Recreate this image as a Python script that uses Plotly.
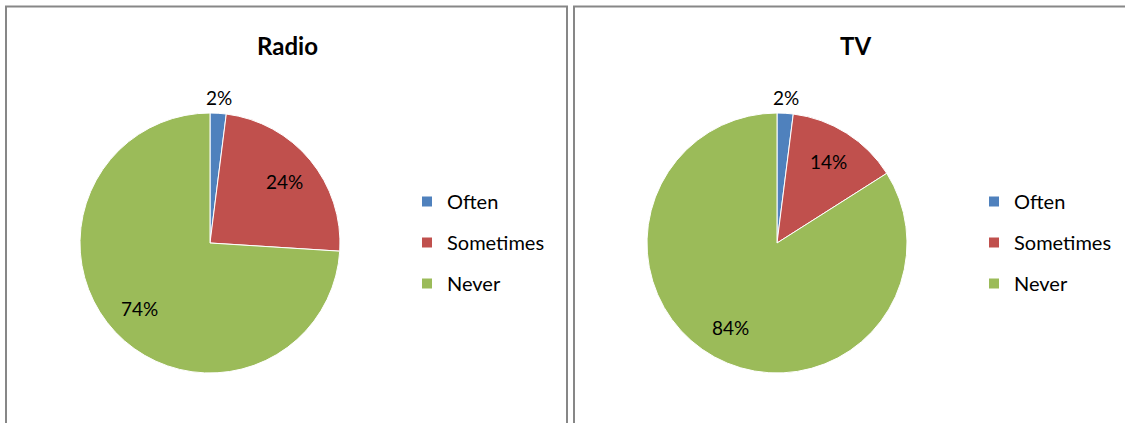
import math
import plotly.graph_objects as go

categories = ["Often", "Sometimes", "Never"]
radio_values = [2, 24, 74]
tv_values = [2, 14, 84]
colors = ["#4F81BD", "#C0504D", "#9BBB59"]
titles = ["Radio", "TV"]
label_inside = [False, True, True]

W, H = 1125, 423
FONT = "Lato"

fig = go.Figure()

def px_x(v):
    return v / W

def px_y(v):
    return 1 - v / H

# pie placement (pixels): left, right, top, bottom
pie_specs = [
    (radio_values, (80, 340, 113, 373), "legend"),
    (tv_values, (647, 907, 113, 373), "legend2"),
]

for vals, (x0, x1, y0, y1), leg in pie_specs:
    fig.add_trace(go.Pie(
        labels=categories, values=vals, sort=False, direction="clockwise", rotation=0,
        marker=dict(colors=colors, line=dict(color="white", width=1)),
        textinfo="none",
        domain=dict(x=[px_x(x0), px_x(x1)], y=[px_y(y1), px_y(y0)]),
        showlegend=False, hoverinfo="label+percent",
    ))
    # data labels placed at the mid-angle of each slice (Excel "best fit" style)
    cx, cy, R = (x0 + x1) / 2, (y0 + y1) / 2, (x1 - x0) / 2
    total = sum(vals)
    cum = 0
    for v, inside in zip(vals, label_inside):
        mid = (cum + v / 2) / total * 2 * math.pi
        cum += v
        r = 0.74 * R if inside else R + 16
        lx = cx + r * math.sin(mid)
        ly = cy - r * math.cos(mid)
        fig.add_annotation(text="%d%%" % round(100 * v / total), x=px_x(lx), y=px_y(ly),
                           xref="paper", yref="paper", showarrow=False,
                           xanchor="center", yanchor="middle",
                           font=dict(family=FONT, size=19, color="black"))
    for c, col in zip(categories, colors):
        fig.add_trace(go.Scatter(
            x=[None], y=[None], mode="markers", name=c,
            marker=dict(symbol="square", size=10, color=col),
            legend=leg, legendgroup=leg + c, showlegend=True,
        ))

leg_common = dict(font=dict(family=FONT, size=20, color="black"), tracegroupgap=12,
                  bgcolor="rgba(0,0,0,0)", xanchor="left", yanchor="top",
                  traceorder="grouped")
fig.update_layout(
    width=W, height=H, margin=dict(l=0, r=0, t=0, b=0),
    paper_bgcolor="white", plot_bgcolor="white",
    xaxis=dict(visible=False), yaxis=dict(visible=False),
    legend=dict(x=px_x(407), y=px_y(182), **leg_common),
    legend2=dict(x=px_x(974), y=px_y(182), **leg_common),
)

# panel borders
fig.add_shape(type="rect", xref="paper", yref="paper", x0=px_x(6), x1=px_x(567),
              y0=px_y(430), y1=px_y(6.5), line=dict(color="#878787", width=2))
fig.add_shape(type="rect", xref="paper", yref="paper", x0=px_x(574), x1=px_x(1140),
              y0=px_y(430), y1=px_y(6.5), line=dict(color="#878787", width=2))

for t, cx in zip(titles, [287, 855]):
    fig.add_annotation(text="<b>%s</b>" % t, x=px_x(cx), y=px_y(45), xref="paper", yref="paper",
                       showarrow=False, font=dict(family=FONT, size=24, color="black"),
                       xanchor="center", yanchor="middle")

fig.write_html("out.html")
